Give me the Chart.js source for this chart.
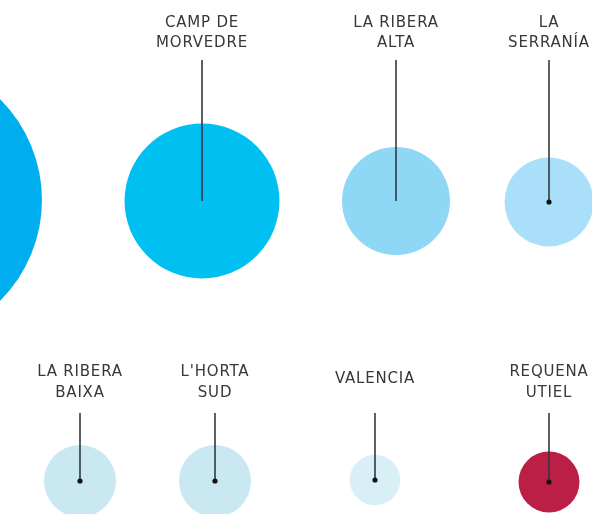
<!DOCTYPE html>
<html>
<head>
<meta charset="utf-8">
<script src="https://cdn.jsdelivr.net/npm/chart.js@4/dist/chart.umd.min.js"></script>
<style>
  html, body { margin: 0; padding: 0; background: #fff; }
  #chart { display: block; }
</style>
</head>
<body>
<canvas id="chart" width="592" height="514"></canvas>
<script>
// comarcas (the first one is cut off on the left in the original)
var comarcas = ["L'HORTA NORD", "CAMP DE\nMORVEDRE", "LA RIBERA\nALTA", "LA\nSERRANÍA",
                "LA RIBERA\nBAIXA", "L'HORTA\nSUD", "VALENCIA", "REQUENA\nUTIEL"]
// value that sets each bubble's area
var valores = [5040, 1500, 729, 495, 324, 324, 160, 232]
// place of each bubble on the page grid
var posX = [-100, 202, 396, 549, 80, 215, 375, 549]
var posY = [200, 201, 201, 202, 481, 481, 480, 482]
var fila = [0, 0, 0, 0, 1, 1, 1, 1]

var colores = ["#00adee", "#00c0f2", "#8ed8f6", "#a9dff8", "#c9e8f2", "#c9e8f2", "#d9eff6", "#bc1f46"]
var conPunto = [false, false, false, true, true, true, true, true]

var puntos = []
for (var i = 0; i < valores.length; i++) {
  puntos.push({ x: posX[i], y: posY[i], r: Math.sqrt(valores[i]) * 2 })
}

// labels on top + leader line down to the centre of each bubble
var etiquetas = {
  id: 'etiquetas',
  afterDatasetsDraw: function(chart) {
    var ctx = chart.ctx
    var meta = chart.getDatasetMeta(0)
    var centroTexto = [33, 382.5]
    var inicioLinea = [60, 413]
    ctx.save()
    ctx.font = '15px "DejaVu Sans"'
    ctx.letterSpacing = '0.8px'
    ctx.textAlign = 'center'
    ctx.textBaseline = 'middle'
    meta.data.forEach(function(el, i) {
      var f = fila[i]
      var lineas = comarcas[i].split('\n')
      var y0 = chart.scales.y.getPixelForValue(centroTexto[f])
      if (lineas.length == 1) y0 -= 3
      var alto = 20.5
      ctx.fillStyle = '#383838'
      lineas.forEach(function(t, k) {
        ctx.fillText(t, el.x, y0 + (k - (lineas.length - 1) / 2) * alto)
      })
      ctx.beginPath()
      ctx.strokeStyle = '#2e3a40'
      ctx.lineWidth = 1.6
      ctx.moveTo(el.x, chart.scales.y.getPixelForValue(inicioLinea[f]))
      ctx.lineTo(el.x, el.y)
      ctx.stroke()
      if (conPunto[i]) {
        ctx.beginPath()
        ctx.fillStyle = '#111'
        ctx.arc(el.x, el.y, 2.6, 0, Math.PI * 2)
        ctx.fill()
      }
    })
    ctx.restore()
  }
}

new Chart(document.getElementById('chart').getContext('2d'), {
  type: 'bubble',
  data: {
    labels: comarcas,
    datasets: [{
      data: puntos,
      backgroundColor: colores,
      borderWidth: 0,
      hoverRadius: 0,
      clip: false
    }]
  },
  options: {
    responsive: false,
    animation: false,
    layout: { padding: 0, autoPadding: false },
    plugins: { legend: { display: false }, tooltip: { enabled: false } },
    scales: {
      x: { type: 'linear', min: 0, max: 592, display: false },
      y: { type: 'linear', min: 0, max: 514, reverse: true, display: false }
    }
  },
  plugins: [etiquetas]
})
</script>
</body>
</html>
